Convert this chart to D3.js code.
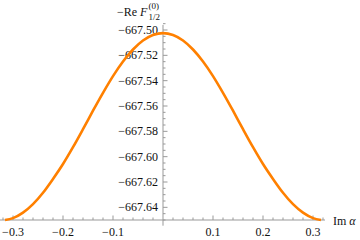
<!DOCTYPE html>
<html>
<head>
<meta charset="utf-8">
<script src="https://cdn.jsdelivr.net/npm/d3@7"></script>
<style>
  body { margin: 0; background: #fff; }
  svg { display: block; }
</style>
</head>
<body>
<svg id="chart" width="360" height="240"></svg>
<script>
// values (symmetric about Im a = 0)
var imAlpha = [-0.316, -0.30, -0.28, -0.26, -0.24, -0.22, -0.20, -0.18, -0.16, -0.14, -0.12, -0.10, -0.08, -0.06, -0.04, -0.02,
  0, 0.02, 0.04, 0.06, 0.08, 0.10, 0.12, 0.14, 0.16, 0.18, 0.20, 0.22, 0.24, 0.26, 0.28, 0.30, 0.316];
var negReF = [-667.6500, -667.6485, -667.6442, -667.6375, -667.6285, -667.6176, -667.6058, -667.5925, -667.5783, -667.5637, -667.5496, -667.5364, -667.5249, -667.5154, -667.5083, -667.5040,
  -667.5025, -667.5040, -667.5083, -667.5154, -667.5249, -667.5364, -667.5496, -667.5637, -667.5783, -667.5925, -667.6058, -667.6176, -667.6285, -667.6375, -667.6442, -667.6485, -667.6500];
var xMajor = [-0.3, -0.2, -0.1, 0.1, 0.2, 0.3];
var xLabels = ["\u22120.3", "\u22120.2", "\u22120.1", "0.1", "0.2", "0.3"];
var yMajor = [-667.50, -667.52, -667.54, -667.56, -667.58, -667.60, -667.62, -667.64];

var svg = d3.select("#chart");
var serif = "'Liberation Serif'";
var axisColor = "#999";
var textColor = "#111";

var x = d3.scaleLinear().domain([-0.326, 0.324]).range([0, 325]);
var y = d3.scaleLinear().domain([-667.65, -667.50]).range([220, 30]);

var x0 = x(0), yBase = y(-667.65);

// axes lines
svg.append("line").attr("x1", x(-0.326)).attr("x2", x(0.324))
  .attr("y1", yBase).attr("y2", yBase)
  .attr("stroke", axisColor).attr("stroke-width", 1);
svg.append("line").attr("x1", x0).attr("x2", x0)
  .attr("y1", y(-667.6545)).attr("y2", y(-667.496))
  .attr("stroke", axisColor).attr("stroke-width", 1);

// x ticks
var xMinor = d3.range(-16, 17).map(function(i) { return i * 0.02; })
  .filter(function(v) { return Math.abs(v) > 1e-9 && Math.abs(Math.round(v * 10) - v * 10) > 1e-6; });
svg.selectAll(".xminor").data(xMinor).enter().append("line")
  .attr("x1", function(d) { return x(d); }).attr("x2", function(d) { return x(d); })
  .attr("y1", yBase).attr("y2", yBase - 2.5)
  .attr("stroke", axisColor);
svg.selectAll(".xmajor").data(xMajor).enter().append("line")
  .attr("x1", function(d) { return x(d); }).attr("x2", function(d) { return x(d); })
  .attr("y1", yBase).attr("y2", yBase - 4.5)
  .attr("stroke", axisColor);
svg.selectAll(".xlab").data(xMajor).enter().append("text")
  .attr("x", function(d) { return x(d); }).attr("y", 236)
  .attr("text-anchor", "middle")
  .style("font-family", serif).style("font-size", "12px").attr("fill", textColor)
  .text(function(d, i) { return xLabels[i]; });

// y ticks
var yMinor = d3.range(0, 32).map(function(i) { return -667.65 + i * 0.005; })
  .filter(function(v) { return Math.abs(Math.round(v * 50) - v * 50) > 1e-4; });
svg.selectAll(".yminor").data(yMinor).enter().append("line")
  .attr("x1", x0).attr("x2", x0 + 2.5)
  .attr("y1", function(d) { return y(d); }).attr("y2", function(d) { return y(d); })
  .attr("stroke", axisColor);
svg.selectAll(".ymajor").data(yMajor).enter().append("line")
  .attr("x1", x0).attr("x2", x0 + 4.5)
  .attr("y1", function(d) { return y(d); }).attr("y2", function(d) { return y(d); })
  .attr("stroke", axisColor);
svg.selectAll(".ylab").data(yMajor).enter().append("text")
  .attr("x", x0 - 5).attr("y", function(d) { return y(d) + 4; })
  .attr("text-anchor", "end")
  .style("font-family", serif).style("font-size", "12px").attr("fill", textColor)
  .text(function(d) { return "\u2212" + Math.abs(d).toFixed(2); });

// curve
var line = d3.line()
  .x(function(d) { return x(d[0]); })
  .y(function(d) { return y(d[1]); })
  .curve(d3.curveMonotoneX);
svg.append("path")
  .datum(imAlpha.map(function(v, i) { return [v, negReF[i]]; }))
  .attr("d", line)
  .attr("fill", "none")
  .attr("stroke", "#ff8000")
  .attr("stroke-width", 2.6)
  .attr("stroke-linejoin", "round");

// axis labels
var xt = svg.append("text").attr("x", 333).attr("y", 225)
  .style("font-family", serif).style("font-size", "12px").attr("fill", textColor);
xt.append("tspan").text("Im ");
xt.append("tspan").style("font-style", "italic").text("\u03b1");

var yt = svg.append("text").attr("x", 117).attr("y", 16)
  .style("font-family", serif).style("font-size", "12px").attr("fill", textColor);
yt.append("tspan").text("\u2212Re ");
yt.append("tspan").style("font-style", "italic").text("F");
var fEnd = 117 + yt.node().getComputedTextLength() + 1;
svg.append("text").attr("x", fEnd).attr("y", 9)
  .style("font-family", serif).style("font-size", "9px").attr("fill", textColor)
  .text("(0)");
svg.append("text").attr("x", fEnd).attr("y", 20)
  .style("font-family", serif).style("font-size", "9px").attr("fill", textColor)
  .text("1/2");
</script>
</body>
</html>
